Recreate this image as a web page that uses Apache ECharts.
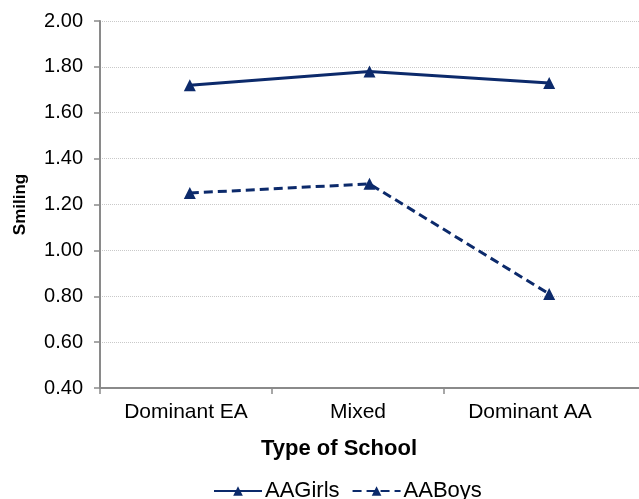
<!DOCTYPE html>
<html>
<head>
<meta charset="utf-8">
<script src="https://cdn.jsdelivr.net/npm/echarts@6/dist/echarts.min.js"></script>
<style>
  html, body { margin: 0; padding: 0; background: #fff; }
  #chart { width: 639px; height: 499px; }
</style>
</head>
<body>
<div id="chart"></div>
<script>
// School type categories and mean smiling scores
const categories = ['Dominant EA', 'Mixed', 'Dominant AA'];
const aaGirls = [1.72, 1.78, 1.73];
const aaBoys = [1.25, 1.29, 0.81];
const yTicks = { min: 0.4, max: 2.0, step: 0.2 };

const NAVY = '#0c2a6b';
const AXIS_GRAY = '#8a8a8a';
const FONT = 'Liberation Sans, Arial, Helvetica, sans-serif';

// positions of the category band edges and centres on the label axis
const bandEdges = categories.map(function (c, i) { return i; });
const bandCentres = categories.map(function (c, i) { return i + 0.5; });

const chart = echarts.init(document.getElementById('chart'), null, { renderer: 'canvas' });

chart.setOption({
  animation: false,
  backgroundColor: '#ffffff',
  textStyle: { fontFamily: FONT },
  grid: [
    { left: 100, top: 21, right: 0, height: 367 },
    { left: 100, top: 21, width: 516, height: 367 }
  ],
  xAxis: [
    {
      gridIndex: 0,
      type: 'category',
      data: categories,
      boundaryGap: true,
      axisLine: { show: true, lineStyle: { color: AXIS_GRAY, width: 2 } },
      axisTick: { show: false },
      axisLabel: { show: false },
      splitLine: { show: false }
    },
    {
      // label axis: ticks on band edges, names at band centres
      gridIndex: 1,
      type: 'value',
      min: 0,
      max: categories.length,
      axisLine: { show: false },
      axisTick: {
        show: true,
        length: 6,
        customValues: bandEdges,
        lineStyle: { color: AXIS_GRAY, width: 1.5 }
      },
      axisLabel: {
        show: true,
        customValues: bandCentres,
        fontSize: 21,
        color: '#000',
        margin: 14,
        fontFamily: FONT,
        formatter: function (v) { return categories[Math.floor(v)]; }
      },
      splitLine: { show: false }
    }
  ],
  yAxis: [
    {
      gridIndex: 0,
      type: 'value',
      min: yTicks.min,
      max: yTicks.max,
      interval: yTicks.step,
      name: 'Smiling',
      nameLocation: 'middle',
      nameRotate: 90,
      nameGap: 71,
      nameTextStyle: { fontSize: 17, fontWeight: 'bold', color: '#000', fontFamily: FONT },
      axisLine: { show: true, lineStyle: { color: AXIS_GRAY, width: 2 } },
      axisTick: { show: true, inside: false, length: 6, lineStyle: { color: AXIS_GRAY, width: 1.5 } },
      axisLabel: {
        fontSize: 20,
        color: '#000',
        margin: 17,
        fontFamily: FONT,
        formatter: function (v) { return v.toFixed(2); }
      },
      splitLine: { show: true, lineStyle: { color: '#c9c9c9', type: 'dotted', width: 1 } }
    },
    {
      gridIndex: 1,
      type: 'value',
      min: yTicks.min,
      max: yTicks.max,
      show: false
    }
  ],
  legend: {
    left: 208,
    top: 475,
    itemWidth: 48,
    itemHeight: 12,
    itemGap: 12,
    textStyle: { fontSize: 22, color: '#000', fontFamily: FONT, padding: [0, 0, 0, -2] },
    data: ['AAGirls', 'AABoys']
  },
  graphic: [
    {
      type: 'text',
      x: 339,
      y: 449,
      style: {
        text: 'Type of School',
        fill: '#000',
        font: 'bold 22px ' + FONT,
        textAlign: 'center',
        textVerticalAlign: 'middle'
      }
    }
  ],
  series: [
    {
      name: 'AAGirls',
      type: 'line',
      xAxisIndex: 0,
      yAxisIndex: 0,
      data: aaGirls,
      symbol: 'triangle',
      symbolSize: 12,
      itemStyle: { color: NAVY },
      lineStyle: { color: NAVY, width: 3, type: 'solid' }
    },
    {
      name: 'AABoys',
      type: 'line',
      xAxisIndex: 0,
      yAxisIndex: 0,
      data: aaBoys,
      symbol: 'triangle',
      symbolSize: 12,
      itemStyle: { color: NAVY },
      lineStyle: { color: NAVY, width: 3, type: [9, 5] }
    }
  ]
});
</script>
</body>
</html>
